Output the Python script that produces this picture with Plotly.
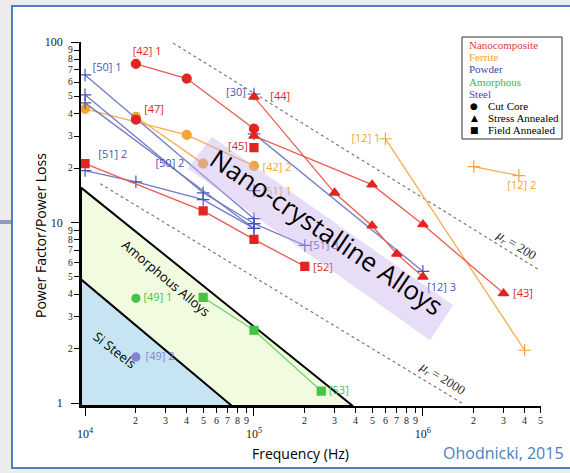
import math
import plotly.graph_objects as go

# ---------------- data (frequency in Hz, power factor / power loss) ----------------
# Nanocomposite (red)
nc42_1_f = [2e4, 4e4, 1e5]
nc42_1_v = [75.6, 62.7, 33.1]
nc47_f = [2e4]
nc47_v = [37.1]
nc45_f = [1e5]
nc45_v = [26.0]
nc44_f = [1e5, 3e5, 5e5, 7e5, 1e6]
nc44_v = [49.7, 14.6, 9.6, 6.7, 5.0]
nc43_f = [1e5, 5e5, 1e6, 3e6]
nc43_v = [30.2, 16.2, 9.75, 4.05]
nc52_f = [1e4, 5e4, 1e5, 2e5]
nc52_v = [21.2, 11.6, 8.06, 5.71]

# Ferrite (orange)
fe42_2_f = [1e4, 4e4, 1e5]
fe42_2_v = [42.6, 30.6, 20.6]
fe47_f = [2e4, 5e4]
fe47_v = [38.5, 21.2]
fe12_1_f = [6e5, 4e6]
fe12_1_v = [29.1, 1.96]
fe12_2_f = [2e6, 3.7e6]
fe12_2_v = [20.4, 18.2]

# Powder (blue)
pw50_1_f = [1e4, 1e5]
pw50_1_v = [65.7, 10.5]
pw50_2a_f = [1e4, 5e4, 1e5]
pw50_2a_v = [51.0, 14.6, 9.87]
pw50_2b_f = [1e4, 1e5]
pw50_2b_v = [46.0, 9.27]
pw51_2_f = [1e4, 2e4, 5e4, 1e5]
pw51_2_v = [19.4, 16.8, 13.4, 9.27]
pw51_1_f = [1e5]
pw51_1_v = [15.0]
pw51_3_f = [1e5, 2e5]
pw51_3_v = [9.87, 7.46]
pw30_f = [1e5]
pw30_v = [51.5]
pw12_3_f = [1e5, 1e6]
pw12_3_v = [31.0, 5.36]

# Amorphous (green) and Steel
am53_f = [5e4, 1e5, 2.5e5]
am53_v = [3.85, 2.53, 1.165]
am49_1_f = [2e4]
am49_1_v = [3.80]
st49_2_f = [2e4]
st49_2_v = [1.80]

# permeability guide lines (endpoints)
mu200_f = [3.32e4, 4.92e6]
mu200_v = [98.7, 5.43]
mu2000_f = [1.23e4, 1.70e6]
mu2000_v = [16.4, 1.0]

# region boundaries
amorph_top_v = 15.6
amorph_end_f = 3.85e5
steel_top_v = 4.84
steel_end_f = 7.41e4

# axis ranges (log10)
XR = [3.976, 6.699]
YR = [-0.0166, 2.0]
xmin, ymin = 10 ** XR[0], 10 ** YR[0]

# tick values
x_major = [1e4, 1e5, 1e6]
x_major_text = ["10<sup>4</sup>", "10<sup>5</sup>", "10<sup>6</sup>"]
x_minor = [m * 10 ** e for e in (4, 5) for m in range(2, 10)] + [m * 1e6 for m in range(2, 6)]
y_major = [1, 10, 100]
y_minor = [m * 10 ** e for e in (0, 1) for m in range(2, 10)]

RED, RED_L = "#e3241f", "#ea5a52"
ORA, ORA_L = "#f7a431", "#f6ad4e"
BLU, BLU_L = "#4656b4", "#6f7cc6"
GRN, GRN_L = "#46c346", "#76d676"
STL = "#8185d6"

SERIF = "Liberation Serif"
SANS = "Open Sans"

# plot area in pixels: x 81..541, y 42..406
def px(x):
    return (x - 81) / 460.0


def py(y):
    return (406 - y) / 364.0


fig = go.Figure()

# shaded material regions
fig.add_trace(go.Scatter(x=[xmin, xmin, amorph_end_f, xmin], y=[ymin, amorph_top_v, ymin, ymin],
                         fill="toself", fillcolor="#f0fbdf", mode="lines",
                         line=dict(color="black", width=2), hoverinfo="skip"))
fig.add_trace(go.Scatter(x=[xmin, xmin, steel_end_f, xmin], y=[ymin, steel_top_v, ymin, ymin],
                         fill="toself", fillcolor="#c7e4f2", mode="lines",
                         line=dict(color="black", width=2), hoverinfo="skip"))

# permeability guides
for f, v in ((mu200_f, mu200_v), (mu2000_f, mu2000_v)):
    fig.add_trace(go.Scatter(x=f, y=v, mode="lines",
                             line=dict(color="#707070", width=1.1, dash="3px,3px"), hoverinfo="skip"))


def series(f, v, color, lcolor, symbol, size):
    fig.add_trace(go.Scatter(x=f, y=v, mode="lines+markers",
                             line=dict(color=lcolor, width=1.3),
                             marker=dict(color=color, symbol=symbol, size=size,
                                         line=dict(color=color, width=1.2)),
                             hoverinfo="skip"))


# ferrite
series(fe42_2_f, fe42_2_v, ORA, ORA_L, "circle", 9)
series(fe47_f, fe47_v, ORA, ORA_L, "circle", 9)
series(fe12_1_f, fe12_1_v, ORA, ORA_L, "cross-thin", 9)
series(fe12_2_f, fe12_2_v, ORA, ORA_L, "cross-thin", 9)
# powder
for f, v in ((pw50_1_f, pw50_1_v), (pw50_2a_f, pw50_2a_v), (pw50_2b_f, pw50_2b_v),
             (pw51_2_f, pw51_2_v), (pw51_1_f, pw51_1_v), (pw51_3_f, pw51_3_v),
             (pw30_f, pw30_v), (pw12_3_f, pw12_3_v)):
    series(f, v, BLU, BLU_L, "cross-thin", 9)
# nanocomposite
series(nc42_1_f, nc42_1_v, RED, RED_L, "circle", 9)
series(nc47_f, nc47_v, RED, RED_L, "circle", 9)
series(nc45_f, nc45_v, RED, RED_L, "square", 8)
series(nc52_f, nc52_v, RED, RED_L, "square", 8)
series(nc44_f, nc44_v, RED, RED_L, "triangle-up", 9)
series(nc43_f, nc43_v, RED, RED_L, "triangle-up", 9)
# amorphous / steel
series(am53_f, am53_v, GRN, GRN_L, "square", 8)
series(am49_1_f, am49_1_v, GRN, GRN_L, "circle", 8)
series(st49_2_f, st49_2_v, STL, STL, "circle", 8)

# reference labels placed next to the curves
labels = [
    ("[50] 1", 1.35e4, 71.8, BLU),
    ("[42] 1", 2.33e4, 88.1, RED),
    ("[47]", 2.56e4, 42.1, RED),
    ("[51] 2", 1.46e4, 23.5, BLU),
    ("[50] 2", 3.18e4, 20.9, BLU),
    ("[30]", 7.82e4, 52.3, BLU),
    ("[44]", 1.43e5, 49.7, RED),
    ("[45]", 8.04e4, 26.0, RED),
    ("[42] 2", 1.37e5, 20.1, ORA),
    ("[51] 1", 1.37e5, 14.8, ORA),
    ("[12] 1", 4.6e5, 29.1, ORA),
    ("[12] 2", 3.85e6, 15.8, ORA),
    ("[52]", 2.56e5, 5.57, RED),
    ("[51] 3", 2.6e5, 7.4, BLU),
    ("[12] 3", 1.29e6, 4.32, BLU),
    ("[43]", 3.91e6, 4.0, RED),
    ("[49] 1", 2.7e4, 3.80, GRN),
    ("[49] 2", 2.78e4, 1.80, STL),
    ("[53]", 3.18e5, 1.165, GRN),
]
for t, f, v, c in labels:
    fig.add_trace(go.Scatter(x=[f], y=[v], mode="text", text=[t], textposition="middle center",
                             textfont=dict(family=SANS, size=11, color=c), cliponaxis=False,
                             hoverinfo="skip"))

# translucent nanocrystalline band
band_f = [5.64e4, 1.51e6, 1.10e6, 4.06e4, 5.64e4]
band_v = [29.9, 3.48, 2.23, 19.9, 29.9]
fig.add_trace(go.Scatter(x=band_f, y=band_v, fill="toself", fillcolor="rgba(200,175,235,0.42)",
                         mode="lines", line=dict(width=0), hoverinfo="skip"))

ann = []
# minor tick labels
for v in x_minor:
    m = int(round(v / 10 ** math.floor(math.log10(v) + 1e-9)))
    ann.append(dict(x=math.log10(v), xref="x", y=0, yref="paper", yanchor="top", yshift=-7,
                    text=str(m), font=dict(family=SERIF, size=10, color="#222")))
for v in y_minor:
    m = int(round(v / 10 ** math.floor(math.log10(v) + 1e-9)))
    ann.append(dict(x=0, xref="paper", xanchor="right", xshift=-6, y=math.log10(v), yref="y",
                    text=str(m), font=dict(family=SERIF, size=9.5, color="#222")))

# region and guide captions
ann += [
    dict(x=px(327), y=py(232), text="Nano-crystalline Alloys", textangle=34,
         font=dict(family=SANS, size=26, color="black")),
    dict(x=px(166), y=py(278), text="Amorphous Alloys", textangle=40,
         font=dict(family=SANS, size=13, color="black")),
    dict(x=px(115), y=py(350), text="Si Steels", textangle=38,
         font=dict(family=SANS, size=13, color="black")),
    dict(x=px(516), y=py(245), text="<i>μ<sub>r</sub></i> = 200", textangle=32,
         font=dict(family=SERIF, size=13, color="#222")),
    dict(x=px(442), y=py(378), text="<i>μ<sub>r</sub></i> = 2000", textangle=32,
         font=dict(family=SERIF, size=13, color="#222")),
    dict(x=px(40), y=py(236), text="Power Factor/Power Loss", textangle=-90,
         font=dict(family=SANS, size=14, color="black")),
    dict(x=px(300), y=py(453), text="Frequency (Hz)", font=dict(family=SANS, size=14, color="black")),
    dict(x=px(503), y=py(453), text="Ohodnicki, 2015", font=dict(family=SANS, size=16, color="#4a7fc1")),
]

# legend box content
leg = [("Nanocomposite", "#e03a35"), ("Ferrite", "#f5a030"), ("Powder", "#3b47ad"),
       ("Amorphous", "#3cb83c"), ("Steel", "#5a3fb0")]
for i, (t, c) in enumerate(leg):
    ann.append(dict(x=px(467), y=py(45 + 12.2 * i), xanchor="left", text=t,
                    font=dict(family=SERIF, size=11, color=c)))
for i, (sym, t) in enumerate([("●", "Cut Core"), ("▲", "Stress Annealed"), ("■", "Field Annealed")]):
    yy = py(106 + 12.2 * i)
    ann.append(dict(x=px(474), y=yy, text=sym, font=dict(family="DejaVu Sans", size=9, color="black")))
    ann.append(dict(x=px(486), y=yy, xanchor="left", text=t, font=dict(family=SERIF, size=11, color="black")))

for a in ann:
    a.setdefault("xref", "paper")
    a.setdefault("yref", "paper")
    a.setdefault("xanchor", "center")
    a.setdefault("yanchor", "middle")
    a.setdefault("showarrow", False)

shapes = [
    # slide panel
    dict(type="rect", xref="paper", yref="paper", x0=px(12), x1=px(600), y0=py(468), y1=py(6),
         fillcolor="white", line=dict(color="#4f7fbf", width=2), layer="below"),
    dict(type="rect", xref="paper", yref="paper", x0=px(0), x1=px(11), y0=py(224), y1=py(220),
         fillcolor="#8e9db5", line=dict(width=0), layer="below"),
    # legend frame
    dict(type="rect", xref="paper", yref="paper", x0=px(462), x1=px(562), y0=py(139), y1=py(37),
         fillcolor="white", line=dict(color="#333", width=1)),
]

axis_common = dict(type="log", showgrid=False, zeroline=False, showline=True, linecolor="black",
                   linewidth=1.5, ticks="outside", tickcolor="black", ticklen=8, tickwidth=1)

fig.update_layout(
    width=570, height=473,
    margin=dict(l=81, r=29, t=42, b=67),
    paper_bgcolor="#ececec", plot_bgcolor="rgba(0,0,0,0)",
    showlegend=False,
    xaxis=dict(axis_common, range=XR, tickvals=x_major, ticktext=x_major_text,
               tickfont=dict(family=SERIF, size=12, color="#222"), ticklabelstandoff=8,
               minor=dict(tickvals=x_minor, ticklen=5, tickcolor="black", ticks="outside")),
    yaxis=dict(axis_common, range=YR, tickvals=y_major, ticktext=["1", "10", "100"],
               tickfont=dict(family=SERIF, size=12, color="#222"), ticklabelstandoff=6,
               minor=dict(tickvals=y_minor, ticklen=5, tickcolor="black", ticks="outside")),
    annotations=ann,
    shapes=shapes,
)

fig.write_html("out.html")
